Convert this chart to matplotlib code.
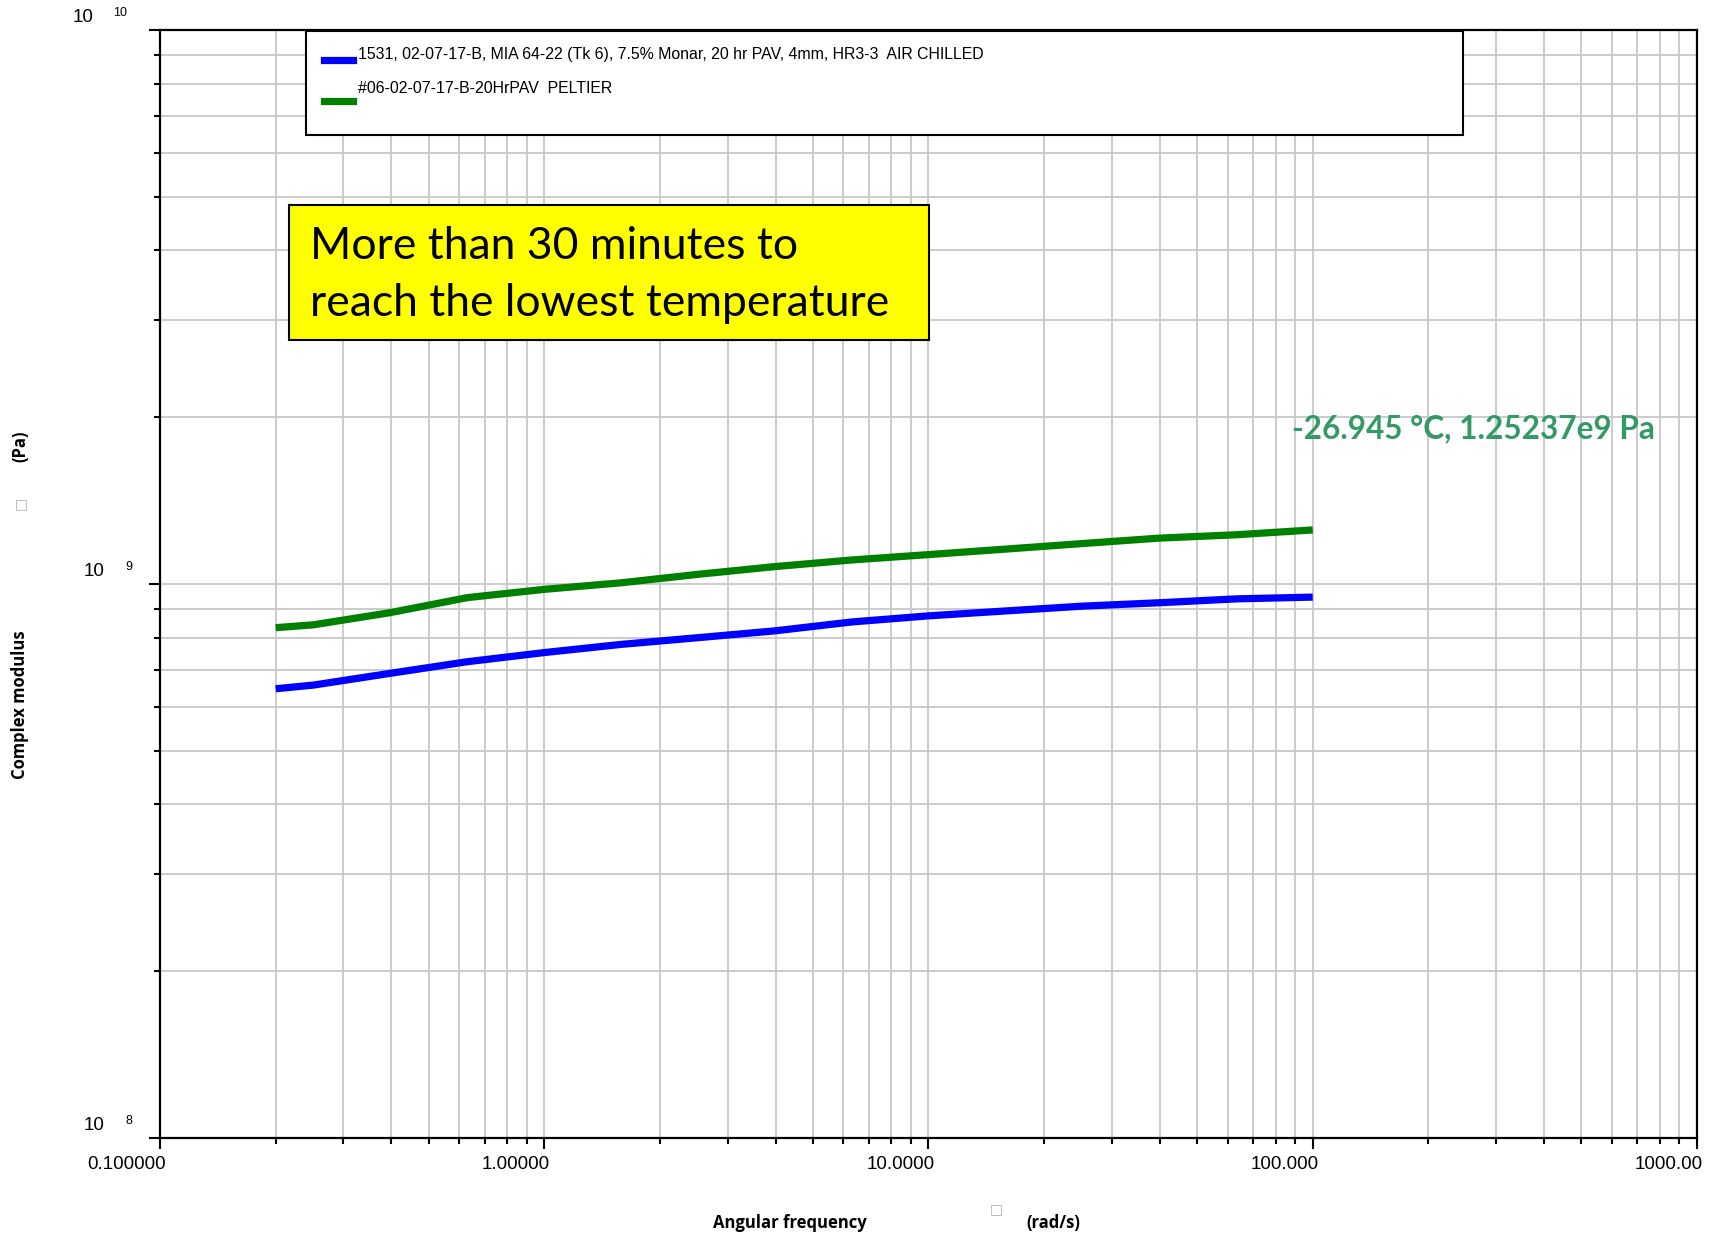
import numpy as np
import matplotlib.pyplot as plt
import matplotlib.transforms as mtransforms
from matplotlib.patches import Rectangle
from matplotlib.lines import Line2D
from matplotlib.ticker import LogLocator, NullFormatter

# frequency sweep, rad/s
freq = [0.2, 0.251, 0.398, 0.631, 1.0, 1.585, 2.512, 3.981, 6.31,
        10.0, 15.85, 25.12, 39.81, 63.1, 100.0]
# complex modulus, Pa
air_chilled = [6.47e8, 6.57e8, 6.90e8, 7.24e8, 7.52e8, 7.78e8, 8.00e8, 8.23e8,
               8.54e8, 8.76e8, 8.94e8, 9.12e8, 9.25e8, 9.40e8, 9.47e8]
peltier = [8.34e8, 8.44e8, 8.88e8, 9.45e8, 9.78e8, 1.005e9, 1.041e9, 1.075e9,
           1.105e9, 1.130e9, 1.156e9, 1.183e9, 1.210e9, 1.227e9, 1.252e9]

series_labels = ["1531, 02-07-17-B, MIA 64-22 (Tk 6), 7.5% Monar, 20 hr PAV, 4mm, HR3-3  AIR CHILLED",
                 "#06-02-07-17-B-20HrPAV  PELTIER"]
series_colors = ['#0000ff', '#008000']

x_ticks = [0.1, 1, 10, 100, 1000]
x_ticklabels = ['0.100000', '1.00000', '10.0000', '100.000', '1000.00']
y_exponents = [8, 9, 10]

note_text = "More than 30 minutes to\nreach the lowest temperature"
point_text = "-26.945 \u00b0C, 1.25237e9 Pa"

W, H = 1715, 1236
fig = plt.figure(figsize=(W / 100, H / 100), dpi=100)
ax = fig.add_axes([160 / W, 1 - 1138 / H, (1697 - 160) / W, (1138 - 30) / H])

tick_font = 'Liberation Sans'

lines = []
for y, c in zip([air_chilled, peltier], series_colors):
    ln, = ax.plot(freq, y, color=c, lw=5.2, solid_capstyle='butt', zorder=3)
    lines.append(ln)

ax.set_xscale('log')
ax.set_yscale('log')
ax.set_xlim(0.1, 1000)
ax.set_ylim(1e8, 1e10)

ax.set_xticks(x_ticks)
ax.set_xticklabels(x_ticklabels, fontsize=13.5, family=tick_font)
ax.xaxis.set_minor_locator(LogLocator(base=10, subs=np.arange(2, 10)))
ax.xaxis.set_minor_formatter(NullFormatter())
ax.set_yticks([10.0 ** e for e in y_exponents])
ax.set_yticklabels([])
ax.yaxis.set_minor_locator(LogLocator(base=10, subs=np.arange(2, 10)))
ax.yaxis.set_minor_formatter(NullFormatter())

ax.tick_params(which='major', length=8, width=1.5, direction='out', pad=5)
ax.tick_params(which='minor', length=4, width=1.5, direction='out')
ax.grid(True, which='both', color='#c8c8c8', lw=1.3, zorder=0)
ax.set_axisbelow(True)
for s in ax.spines.values():
    s.set_linewidth(1.6)
    s.set_color('black')

# x labels sit to the left of their tick, ending just past it
shift = mtransforms.ScaledTranslation(6 / 100, 0, fig.dpi_scale_trans)
for lab in ax.get_xticklabels():
    lab.set_horizontalalignment('right')
    lab.set_transform(lab.get_transform() + shift)

# y tick labels drawn as "10" plus a raised exponent
for e in y_exponents:
    ax.annotate("10", xy=(0, 10.0 ** e), xycoords=ax.get_yaxis_transform(),
                xytext=(-66 if e < 10 else -77, 13), textcoords='offset pixels',
                ha='center', va='center', fontsize=13.5, family=tick_font,
                annotation_clip=False)
    ax.annotate(str(e), xy=(0, 10.0 ** e), xycoords=ax.get_yaxis_transform(),
                xytext=(-31 if e < 10 else -40, 17), textcoords='offset pixels',
                ha='center', va='center', fontsize=9, family=tick_font,
                annotation_clip=False)

# legend box
ax.add_patch(Rectangle((0.095, 0.9052), 0.7527, 0.094, transform=ax.transAxes,
                       facecolor='white', edgecolor='black', lw=1.5, zorder=5))
leg_y = [(0.9729, 0.9783), (0.9359, 0.9468)]
for ln, lab, (hy, ty) in zip(lines, series_labels, leg_y):
    ax.add_line(Line2D([0.1067, 0.1256], [hy, hy], transform=ax.transAxes,
                       color=ln.get_color(), lw=5.2, zorder=6))
    ax.text(0.1288, ty, lab, transform=ax.transAxes, fontsize=11.4,
            family=tick_font, va='center', ha='left', zorder=6)

# yellow note box
ax.add_patch(Rectangle((0.0839, 0.7202), 0.4164, 0.1218, transform=ax.transAxes,
                       facecolor='#ffff00', edgecolor='black', lw=1.5, zorder=5))
ax.text(0.0976, 0.779, note_text, transform=ax.transAxes, fontsize=32,
        family='Lato', va='center', ha='left', linespacing=1.5, zorder=6)

# point readout
ax.text(0.7365, 0.6399, point_text, transform=ax.transAxes, fontsize=22.7,
        family='Lato', weight='bold', color='#339966', va='center', ha='left',
        zorder=6)

# axis titles
lab_font = 'Open Sans'
fig.text(790 / W, 1 - 1223 / H, "Angular frequency", fontsize=12, weight='bold',
         family=lab_font, ha='center', va='center')
fig.text(996 / W, 1 - 1209 / H, "\u25a1", fontsize=10, color='#b0b0b0',
         family='DejaVu Sans', ha='center', va='center')
fig.text(1053 / W, 1 - 1223 / H, "(rad/s)", fontsize=12, weight='bold',
         family=lab_font, ha='center', va='center')

fig.text(20 / W, 1 - 705 / H, "Complex modulus", fontsize=12, weight='bold',
         family=lab_font, ha='center', va='center', rotation=90)
fig.text(20 / W, 1 - 503 / H, "\u25a1", fontsize=10, color='#b0b0b0',
         family='DejaVu Sans', ha='center', va='center', rotation=90)
fig.text(20 / W, 1 - 446 / H, "(Pa)", fontsize=12, weight='bold',
         family=lab_font, ha='center', va='center', rotation=90)

fig.savefig('out.png', dpi=100)
